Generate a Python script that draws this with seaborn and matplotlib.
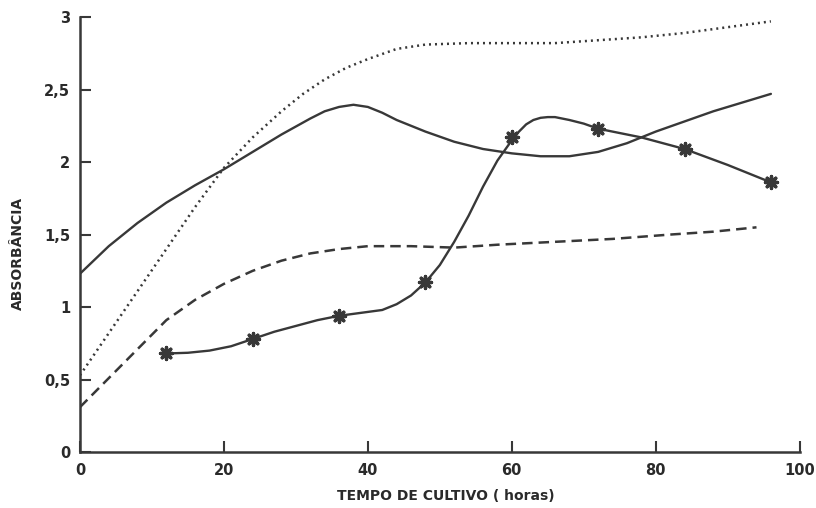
import pandas as pd
import matplotlib
matplotlib.use("Agg")
import matplotlib.pyplot as plt
import seaborn as sns

# Values (hours, absorbance)
solid_x = [0, 4, 8, 12, 16, 20, 24, 28, 32, 34, 36, 38, 40, 42, 44, 48, 52, 56, 60, 64, 68, 72, 76,
           80, 84, 88, 92, 96]
solid_y = [1.23, 1.42, 1.58, 1.72, 1.84, 1.95, 2.07, 2.19, 2.30, 2.35, 2.38, 2.395, 2.38, 2.34, 2.29,
           2.21, 2.14, 2.09, 2.06, 2.04, 2.04, 2.07, 2.13, 2.21, 2.28, 2.35, 2.41, 2.47]

dotted_x = [0, 4, 8, 12, 16, 20, 24, 28, 31, 34, 37, 40, 44, 48, 54, 60, 66, 72, 78, 84, 90, 96]
dotted_y = [0.53, 0.82, 1.11, 1.40, 1.69, 1.96, 2.17, 2.35, 2.47, 2.57, 2.65, 2.71, 2.78, 2.81, 2.82,
            2.82, 2.82, 2.84, 2.86, 2.89, 2.93, 2.97]

dashed_x = [0, 3, 6, 9, 12, 16, 20, 24, 28, 32, 36, 40, 46, 52, 58, 66, 74, 82, 88, 94]
dashed_y = [0.31, 0.46, 0.61, 0.76, 0.91, 1.05, 1.16, 1.25, 1.32, 1.37, 1.40, 1.42, 1.42, 1.41, 1.43,
            1.45, 1.47, 1.50, 1.52, 1.55]

# measured points (asterisks) and the hand-drawn curve through them
star_x = [12, 24, 36, 48, 60, 72, 84, 96]
star_y = [0.68, 0.78, 0.94, 1.17, 2.17, 2.23, 2.09, 1.86]
star_curve_x = [12, 15, 18, 21, 24, 27, 30, 33, 36, 39, 42, 44, 46, 48, 50, 52, 54, 56, 58, 60, 61, 62,
                63, 64, 65, 66, 67, 68, 70, 72, 78, 84, 90, 96]
star_curve_y = [0.68, 0.685, 0.70, 0.73, 0.78, 0.83, 0.87, 0.91, 0.94, 0.96, 0.98, 1.02, 1.08, 1.17,
                1.29, 1.45, 1.63, 1.83, 2.01, 2.15, 2.21, 2.26, 2.29, 2.305, 2.31, 2.31, 2.30, 2.29,
                2.265, 2.23, 2.17, 2.09, 1.98, 1.86]

x_ticks = [0, 20, 40, 60, 80, 100]
y_ticks = [0, 0.5, 1, 1.5, 2, 2.5, 3]
y_tick_labels = ["0", "0,5", "1", "1,5", "2", "2,5", "3"]

ink = "#383838"
text_ink = "#2a2a2a"

sns.set_style("ticks")
plt.rcParams["font.family"] = ["DejaVu Sans"]

fig = plt.figure(figsize=(8.16, 5.08), dpi=100)
ax = fig.add_axes([0.098, 0.110, 0.882, 0.8565])

sns.lineplot(x=solid_x, y=solid_y, ax=ax, color=ink, linewidth=1.7, sort=False)
sns.lineplot(x=dotted_x, y=dotted_y, ax=ax, color=ink, linewidth=1.8, linestyle=(0, (0.8, 1.6)), sort=False)
sns.lineplot(x=dashed_x, y=dashed_y, ax=ax, color=ink, linewidth=1.8, linestyle=(0, (4.2, 2.4)), sort=False)
sns.lineplot(x=star_curve_x, y=star_curve_y, ax=ax, color=ink, linewidth=1.7, sort=False)
sns.scatterplot(x=star_x, y=star_y, ax=ax, marker=(8, 2, 0), s=75, color=ink, linewidth=2.4, zorder=5)

ax.set_xlim(0, 100)
ax.set_ylim(0, 3)
ax.set_xticks(x_ticks)
ax.set_xticklabels([str(t) for t in x_ticks], fontsize=10.5, fontweight="bold", color=text_ink)
ax.set_yticks(y_ticks)
ax.set_yticklabels(y_tick_labels, fontsize=10.5, fontweight="bold", color=text_ink)

ax.tick_params(axis="both", direction="in", length=8, width=1.5, color=ink)
ax.tick_params(axis="x", pad=8)
ax.tick_params(axis="y", pad=7)

for side in ["top", "right"]:
    ax.spines[side].set_visible(False)
for side in ["left", "bottom"]:
    ax.spines[side].set_linewidth(1.8)
    ax.spines[side].set_color(ink)

ax.set_xlabel("TEMPO DE CULTIVO ( horas)", fontsize=10, fontweight="bold", color=text_ink)
ax.set_ylabel("ABSORBÂNCIA", fontsize=10, fontweight="bold", color=text_ink)
ax.xaxis.set_label_coords(0.508, -0.085)
ax.yaxis.set_label_coords(-0.076, 0.457)

fig.savefig("out.png", dpi=100, facecolor="white")
